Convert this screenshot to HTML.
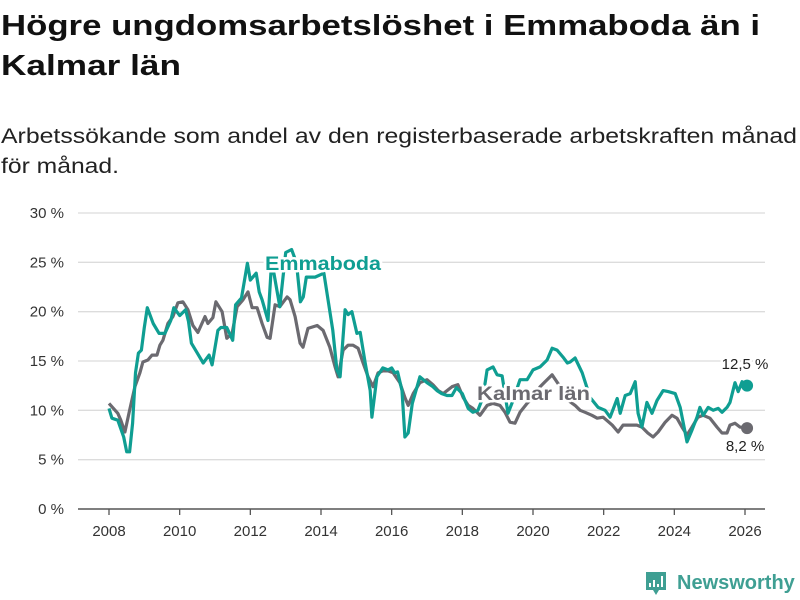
<!DOCTYPE html>
<html><head><meta charset="utf-8"><style>
html,body{margin:0;padding:0;background:#fff;width:800px;height:600px;overflow:hidden}
svg{display:block;font-family:"Liberation Sans","DejaVu Sans",sans-serif}
</style></head><body>
<svg id="chart" width="800" height="600" viewBox="0 0 800 600">
<text x="1" y="35" font-size="29" font-weight="bold" fill="#111" textLength="759" lengthAdjust="spacingAndGlyphs">Högre ungdomsarbetslöshet i Emmaboda än i</text>
<text x="1" y="75" font-size="29" font-weight="bold" fill="#111" textLength="180" lengthAdjust="spacingAndGlyphs">Kalmar län</text>
<text x="1" y="143" font-size="21" fill="#222" textLength="796" lengthAdjust="spacingAndGlyphs">Arbetssökande som andel av den registerbaserade arbetskraften månad</text>
<text x="1" y="173" font-size="21" fill="#222" textLength="118" lengthAdjust="spacingAndGlyphs">för månad.</text>
<g id="grid"></g><g id="xaxis"></g><g id="series"></g><g id="labels"></g>
<g>
<path d="M646 572 h20 v18 h-7 l-3 5 l-3 -5 h-7 z" fill="#3f9f93"/>
<rect x="649" y="583" width="2" height="4" fill="#fff"/><rect x="653" y="580" width="2" height="7" fill="#fff"/><rect x="657" y="584" width="2" height="3" fill="#fff"/><rect x="661" y="576" width="2" height="11" fill="#fff"/>
<text x="677" y="589" font-size="20" font-weight="bold" fill="#3f9f93">Newsworthy</text>
</g>
</svg>
<script>
const yTicks=[0,5,10,15,20,25,30];
const xTicks=[2008,2010,2012,2014,2016,2018,2020,2022,2024,2026];
const emmMonths=[0,1,3,5,6,7,8,9,10,11,12,13,15,17,19,21,22,24,26,27,28,30,32,34,35,37,38,40,42,43,45,47,48,50,51,52,54,55,56,58,60,62,63,64,65,66,67,70,73,76,77.4,78.5,80.2,81.2,82.5,84.2,85.3,87,88.7,89.3,91,93,94.8,96,97,98,99.5,100.5,101.6,103,105.6,108,110,111.4,113,114.8,116.5,118,120,122,123.6,125.3,127,128.4,130.4,131.8,133.5,135.5,137.2,139.6,142,144,146.4,148.8,150.5,152.2,154.2,155.7,156.6,158.3,160.7,163.4,166.1,168.5,170.2,172.6,173.6,175.3,177,178.7,179.7,181,182.7,184.4,186.1,188.2,189.9,192.3,194,196.3,198,199.7,200.7,201.8,203.5,205.2,206.9,208.2,209.9,210.9,212.6,213.7,215,216.7];
const emmValues=[10.2,9.2,9.0,7.3,5.8,5.8,8.7,13.8,15.8,16.1,18.4,20.4,18.8,17.8,17.8,19.1,20.4,19.6,20.2,19,16.8,15.8,14.8,15.6,14.6,18.1,18.4,18.4,17.1,20.7,21.4,24.9,23.2,23.9,22,21.2,19.1,23.9,23.9,20.5,26,26.3,25.5,24,21,21.5,23.5,23.5,23.9,18.1,14.1,13.4,20.2,19.7,20,17.8,17.9,14.8,12,9.3,13.4,14.3,14.1,14.3,13.8,13.9,12,7.3,7.7,10.7,13.4,12.8,12.4,12,11.7,11.5,11.5,12.3,11.7,10.2,9.8,10,11.3,14.1,14.4,13.6,13.5,9.7,11,13.1,13.1,14.1,14.4,15.1,16.3,16.1,15.4,14.8,14.9,15.3,13.8,11.3,10.3,10,9.3,11.2,9.7,11.5,11.7,12.9,9.7,8.3,10.8,9.7,11,12,11.9,11.7,10.3,6.8,8,9.3,10.3,9.5,10.3,10,10.2,9.8,10.3,10.8,12.8,11.9,12.9,12.5];
const kalMonths=[0,3,4,5.4,7,8.8,10.5,11.5,13.2,14.6,16.3,17.3,18.3,20,21.7,23.4,25.1,26.8,28.5,30.2,32.6,33.6,35.3,36.3,38.4,40,41.8,43.5,45.5,47.2,48.6,50.3,52,53.7,54.7,56.4,58,60.5,61.5,63.2,64.9,65.9,67.6,70.7,72.7,75,76.8,77.8,79.5,81.2,82.9,84.6,86.3,88,89.7,91.4,93,94.8,96.5,98.8,100.5,101.6,103.3,105.6,108,110,111.8,113.5,116.5,118.5,120.3,122,123.6,126,128.4,130.4,132.8,134.5,136.2,137.9,139.6,142,144,146.4,148.8,150.5,153,156,158.3,160,161.7,164,165.8,167.8,170.9,172.9,174.6,179.3,181,183,184.8,186.5,188.9,191.2,192.9,194.6,196.3,198,200,201.8,204.1,206.5,208.2,209.9,210.9,212.6,214.3,216.7];
const kalValues=[10.7,9.7,9,7.8,10,12.4,13.8,14.9,15.1,15.6,15.6,16.6,17.1,18.8,19.5,20.9,21,20.2,18.6,17.9,19.5,18.8,19.4,21,20,17.3,17.8,20.5,21.2,22,20.4,20.4,18.8,17.4,17.3,20.7,20.5,21.5,21.2,19.5,16.8,16.4,18.3,18.6,18.1,16.4,14.4,13.4,16.1,16.6,16.6,16.3,14.8,13.4,12.4,13.8,14,14,13.8,12.8,11.3,10.5,11.7,12.8,13.1,12.6,12,11.7,12.4,12.6,11.3,10.5,10.2,9.5,10.5,10.7,10.5,9.8,8.8,8.7,9.8,10.7,11.3,12.4,13.1,13.6,12.5,11,10.5,10,9.8,9.5,9.2,9.3,8.5,7.8,8.5,8.5,8.3,7.7,7.3,7.8,8.8,9.5,9.2,8.3,7.5,8.3,9.3,9.5,9.2,8.3,7.7,7.7,8.5,8.7,8.3,8.2];
const NS='http://www.w3.org/2000/svg';
const y=v=>509-v*(296/30);
const xYear=t=>109+(t-2008)*(636/18);
const xM=m=>xYear(2008+m/12);
function mk(tag,attrs,parent){const e=document.createElementNS(NS,tag);for(const k in attrs)e.setAttribute(k,attrs[k]);parent.appendChild(e);return e;}
const grid=document.getElementById('grid');
yTicks.forEach(t=>{
  const l=mk('line',{x1:78,x2:765,y1:y(t),y2:y(t),stroke:t===0?'#555':'#dcdcdc','stroke-width':t===0?1.5:1.3},grid);
  
  
  const tx=mk('text',{x:64,y:y(t)+5,'text-anchor':'end','font-size':15,fill:'#333'},grid);
  tx.textContent=t+' %';
  
  
});
const xa=document.getElementById('xaxis');
xTicks.forEach(t=>{
  const l=mk('line',{x1:xYear(t),x2:xYear(t),y1:509,y2:515,stroke:'#555','stroke-width':1.3},xa);
  
  
  const tx=mk('text',{x:xYear(t),y:536,'text-anchor':'middle','font-size':15,fill:'#333'},xa);
  tx.textContent=t;
  
  
});
const sg=document.getElementById('series');
function line(ms,vs,color,name){
  const d=ms.map((m,i)=>(i?'L':'M')+xM(m).toFixed(1)+' '+y(vs[i]).toFixed(1)).join(' ');
  const p=mk('path',{d:d,fill:'none',stroke:color,'stroke-width':3.2,'stroke-linejoin':'round'},sg);
  
  
  const c=mk('circle',{cx:xM(ms[ms.length-1]),cy:y(vs[vs.length-1]),r:6,fill:color},sg);
  
  
}
line(kalMonths,kalValues,'#6b6a70','kalmar');
line(emmMonths,emmValues,'#0f9e92','emmaboda');
const lg=document.getElementById('labels');
function lab(x,yy,txt,color,size,weight,anchor,name,len){
  const t=mk('text',{x:x,y:yy,'font-size':size,'font-weight':weight,fill:color,'text-anchor':anchor,stroke:'#fff','stroke-width':5,'paint-order':'stroke','stroke-linejoin':'round'},lg);
  if(len){t.setAttribute('textLength',len);t.setAttribute('lengthAdjust','spacingAndGlyphs');}
  t.textContent=txt;
  
  
}
lab(265,270,'Emmaboda','#0f9e92',19,'bold','start','emmaboda-label',116);
lab(477,400,'Kalmar län','#6b6a70',19,'bold','start','kalmar-label',113);
lab(745,369,'12,5 %','#222',15,'normal','middle','emmaboda-value-label');
lab(745,451,'8,2 %','#222',15,'normal','middle','kalmar-value-label');
</script>
</body></html>
